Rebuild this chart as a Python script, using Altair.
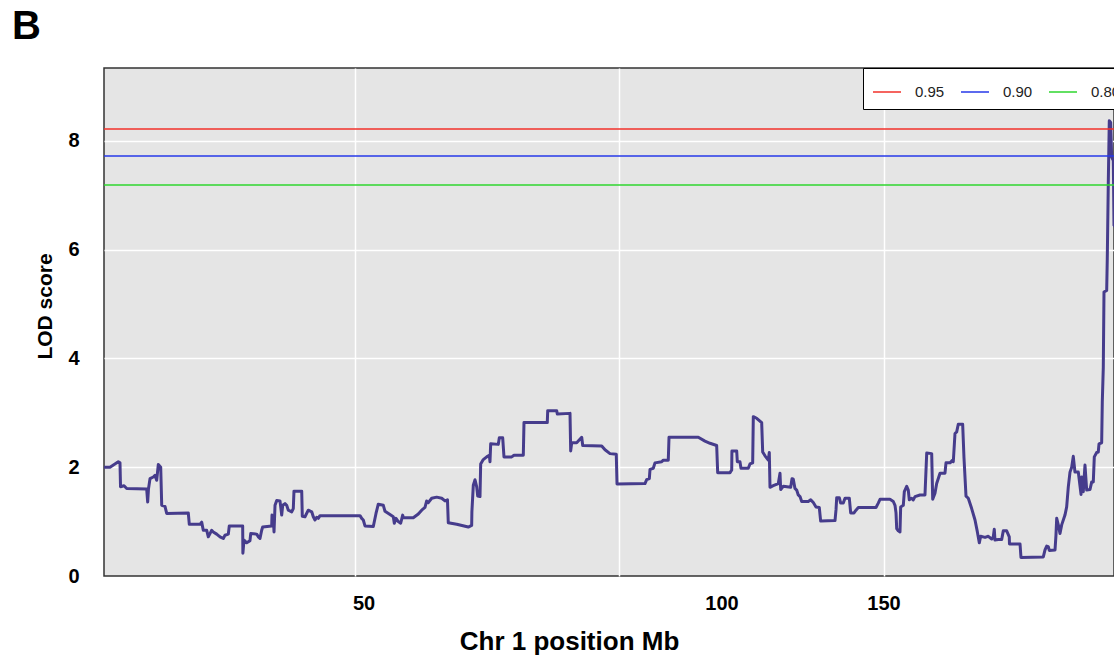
import altair as alt
import pandas as pd

FONT = "Liberation Sans"

# Genome scan along chromosome 1: position (Mb) and LOD score
pos_mb = [
    2.69, 3.82, 5.39, 5.71, 5.81, 6.47, 6.98, 10.75, 10.94, 11.09,
    11.38, 12.00, 12.32, 12.64, 12.95, 13.40, 13.59, 14.21, 14.53, 18.61,
    18.80, 20.82, 21.14, 21.44, 22.09, 22.39, 22.71, 23.03, 23.33, 23.97,
    24.60, 25.22, 25.54, 26.17, 26.35, 28.88, 28.92, 29.13, 29.64, 30.26,
    30.40, 31.53, 31.83, 32.15, 32.47, 32.66, 34.36, 34.42, 34.66, 34.80,
    34.99, 35.31,
    35.93, 36.25, 36.44, 36.87, 37.19, 37.50, 38.14, 38.44, 38.57, 40.03,
    40.14, 40.65, 41.27, 41.92, 42.22, 42.54, 42.86, 43.16, 43.48, 51.04,
    51.36, 51.66, 51.98, 53.55, 54.06, 54.49, 55.44, 55.76, 56.70, 57.33,
    57.52, 57.84, 58.27, 58.72, 59.10, 59.22, 61.10, 62.05, 62.69, 63.31,
    63.63, 63.94, 64.58, 65.52, 66.47, 67.09, 67.56,
    67.71, 69.30, 71.49, 72.13, 72.17, 72.44, 72.76, 73.08, 73.27, 73.70,
    73.83, 74.32, 74.97, 75.46, 75.59, 75.72, 77.16, 77.35, 77.99, 78.23,
    79.69, 80.12, 81.88, 82.01, 86.41, 86.49, 88.19, 88.30, 90.70, 90.83,
    91.02, 91.96, 92.91, 93.10, 96.69, 97.31, 98.25, 99.44, 99.58,
    104.86, 105.18, 105.68, 105.81, 106.43, 106.75, 108.02, 108.32, 109.26, 109.40,
    114.93, 116.19, 117.14, 118.40, 118.59, 120.92, 121.24, 121.28, 122.18, 122.30,
    122.80, 122.99, 124.37, 124.69, 125.20, 125.32, 125.96, 126.90, 127.09, 127.53,
    128.15, 128.34, 128.47, 129.09, 130.04, 130.36, 130.49, 130.98,
    132.38, 132.63, 132.87, 133.19, 133.51, 133.81, 134.14, 134.46, 135.70, 136.16,
    136.65, 137.16, 137.78, 138.04, 140.75, 140.94, 141.07, 141.56, 141.82, 142.31,
    142.64, 143.45, 143.71, 144.34, 144.71, 145.15, 148.49, 148.92, 149.25, 151.13,
    151.76, 152.08, 152.27, 152.40, 152.70, 153.02, 153.15, 153.65, 153.84, 154.29,
    154.59, 154.78, 155.23, 155.53, 155.86, 156.80, 157.74, 158.07, 159.01, 159.20,
    159.63, 159.95, 160.58, 161.52, 161.71, 162.47, 162.97,
    163.09, 163.41, 163.73, 164.03, 164.86, 165.11, 165.49, 165.92, 166.56, 167.19,
    167.62, 168.00, 168.26, 169.08, 169.70, 170.34, 170.64, 170.83, 170.96, 171.59,
    172.23, 172.53, 173.17, 173.66, 173.70, 175.69, 175.87, 180.09, 180.41, 180.73,
    181.03, 181.22, 182.30, 182.48, 182.62, 182.92, 183.24, 183.56, 184.18, 184.50,
    184.81, 185.13, 185.45, 185.75, 186.07, 186.70, 187.21, 187.34, 187.64, 187.96,
    188.28, 188.91, 189.23, 189.53, 189.72, 190.17, 190.47, 190.61, 191.11, 191.23,
    191.42, 191.55, 192.06, 192.17, 192.36, 192.55, 192.81, 193.00, 193.31, 193.44,
    193.82,
]

lod_score = [
    2.00, 2.00, 2.10, 2.08, 1.64, 1.66, 1.61, 1.60, 1.36, 1.60,
    1.79, 1.82, 1.85, 1.76, 2.05, 2.00, 1.30, 1.28, 1.15, 1.16,
    0.95, 0.95, 0.99, 0.84, 0.84, 0.72, 0.78, 0.84, 0.81, 0.77,
    0.72, 0.69, 0.75, 0.77, 0.92, 0.92, 0.42, 0.66, 0.61, 0.65,
    0.78, 0.77, 0.72, 0.69, 0.84, 0.90, 0.92, 1.12, 1.09, 0.81,
    1.30, 1.39,
    1.38, 1.12, 1.30, 1.33, 1.30, 1.21, 1.18, 1.24, 1.56, 1.56,
    1.10, 1.09, 1.21, 1.18, 1.09, 1.03, 1.08, 1.06, 1.11, 1.11,
    1.06, 1.03, 0.92, 0.91, 1.15, 1.32, 1.30, 1.19, 1.13, 1.09,
    0.97, 1.06, 1.00, 0.97, 1.12, 1.07, 1.07, 1.14, 1.21, 1.26,
    1.38, 1.35, 1.43, 1.45, 1.43, 1.38, 1.40,
    0.98, 0.95, 0.90, 0.93, 1.18, 1.67, 1.77, 1.64, 1.47, 1.46,
    2.06, 2.14, 2.19, 2.22, 2.10, 2.43, 2.42, 2.54, 2.54, 2.19,
    2.19, 2.22, 2.22, 2.82, 2.82, 3.04, 3.04, 2.98, 2.99, 2.30,
    2.45, 2.45, 2.55, 2.40, 2.39, 2.32, 2.25, 2.24, 1.69,
    1.70, 1.77, 1.79, 1.96, 1.98, 2.08, 2.10, 2.13, 2.13, 2.55,
    2.55, 2.48, 2.44, 2.40, 1.90, 1.90, 1.95, 2.30, 2.30, 2.10,
    2.10, 1.98, 1.98, 2.06, 2.08, 2.93, 2.90, 2.82, 2.28, 2.21,
    2.13, 2.27, 1.63, 1.66, 1.70, 1.89, 1.59, 1.65,
    1.63, 1.79, 1.78, 1.61, 1.58, 1.49, 1.46, 1.37, 1.37, 1.40,
    1.35, 1.27, 1.26, 1.01, 1.02, 1.22, 1.44, 1.44, 1.34, 1.34,
    1.43, 1.43, 1.16, 1.16, 1.21, 1.26, 1.26, 1.34, 1.41, 1.41,
    1.37, 1.30, 1.16, 0.87, 0.83, 0.81, 1.27, 1.30, 1.55, 1.65,
    1.58, 1.40, 1.43, 1.40, 1.46, 1.49, 1.49, 2.26, 2.25, 1.41,
    1.52, 1.70, 1.89, 1.89, 2.08, 2.08, 2.13,
    2.10, 2.62, 2.65, 2.79, 2.79, 2.17, 1.47, 1.43, 1.24, 1.03,
    0.82, 0.61, 0.73, 0.71, 0.73, 0.68, 0.72, 0.86, 0.66, 0.67,
    0.67, 0.83, 0.83, 0.72, 0.59, 0.59, 0.34, 0.35, 0.48, 0.55,
    0.54, 0.47, 0.48, 0.75, 1.06, 0.94, 0.78, 0.94, 1.12, 1.27,
    1.64, 1.91, 2.00, 2.20, 1.91, 1.91, 1.50, 1.82, 1.55, 2.04,
    1.58, 1.59, 1.73, 1.73, 2.19, 2.27, 2.28, 2.43, 2.45, 3.20,
    3.84, 5.22, 5.25, 5.83, 7.21, 8.37, 8.34, 7.70, 7.64, 6.45,
    6.40,
]

# Permutation significance thresholds
threshold_levels = ["0.95", "0.90", "0.80"]
threshold_lod = [8.22, 7.72, 7.19]
threshold_colors = ["#f2302a", "#2638e8", "#2ed62e"]

# Position-axis tick labels
tick_labels = ["50", "100", "150"]
tick_label_pos = [51.8, 119.4, 150.0]
grid_pos = [50, 100, 150]
y_ticks = [0, 2, 4, 6, 8]

PLOT_W, PLOT_H = 1010, 508

n = min(len(pos_mb), len(lod_score))
scan = pd.DataFrame({"pos": pos_mb[:n], "lod": lod_score[:n]})
thr = pd.DataFrame({"level": threshold_levels, "lod": threshold_lod})
ticks = pd.DataFrame({"pos": tick_label_pos, "label": tick_labels})
panel = pd.DataFrame({"t": ["B"]})

x_scale = alt.Scale(domain=[2.69, 193.44], nice=False, zero=False)
y_scale = alt.Scale(domain=[0, 9.34], nice=False, zero=True)

x_axis = alt.Axis(
    values=grid_pos, grid=True, gridColor="white", gridWidth=1.5,
    labels=False, ticks=False, domain=False,
    title="Chr 1 position Mb", titleFont=FONT, titleFontSize=26,
    titleFontWeight="bold", titleColor="black", titlePadding=52,
    titleX=465, titleAnchor="middle",
)
y_axis = alt.Axis(
    values=y_ticks, grid=True,
    gridColor={"condition": {"test": "datum.value === 0", "value": "transparent"}, "value": "white"},
    gridWidth=1.5, ticks=False, domain=False,
    labelFont=FONT, labelFontSize=20, labelFontWeight="bold", labelColor="black",
    labelPadding=25,
    title="LOD score", titleFont=FONT, titleFontSize=21, titleFontWeight="bold",
    titleColor="black", titlePadding=12, titleY=238, titleAnchor="middle",
)

x_enc = alt.X("pos:Q", scale=x_scale, axis=x_axis)
y_enc = alt.Y("lod:Q", scale=y_scale, axis=y_axis)

line = alt.Chart(scan).mark_line(
    color="#463c8c", strokeWidth=3, clip=True, strokeJoin="round"
).encode(x=x_enc, y=y_enc)

rules = alt.Chart(thr).mark_rule(strokeWidth=1.5, clip=True).encode(
    y=y_enc,
    color=alt.Color(
        "level:N",
        scale=alt.Scale(domain=threshold_levels, range=threshold_colors),
        sort=threshold_levels,
        legend=alt.Legend(
            title=None, orient="none", legendX=759, legendY=0,
            direction="horizontal", symbolType="stroke", symbolSize=784,
            symbolStrokeWidth=1.5, labelFont=FONT, labelFontSize=15,
            labelColor="#222222", labelOffset=13, columnPadding=13,
            padding=9, fillColor="white", strokeColor="black",
        ),
    ),
)

tick_text = alt.Chart(ticks).mark_text(
    font=FONT, fontSize=20, fontWeight="bold", color="black",
    align="center", baseline="middle",
).encode(x=x_enc, y=alt.value(PLOT_H + 28), text="label:N")

panel_tag = alt.Chart(panel).mark_text(
    font=FONT, fontSize=40, fontWeight="bold", color="black",
    align="left", baseline="alphabetic",
).encode(x=alt.value(-92), y=alt.value(-29), text="t:N")

chart = (
    alt.layer(line, rules, tick_text, panel_tag)
    .properties(
        width=PLOT_W, height=PLOT_H, autosize="none",
        padding={"left": 104, "top": 68, "right": 0, "bottom": 86},
        background="white",
    )
    .configure_view(fill="#e5e5e5", stroke="#333333", strokeWidth=1.5)
)

chart.save("out.html", embed_options={"renderer": "svg", "actions": False})
